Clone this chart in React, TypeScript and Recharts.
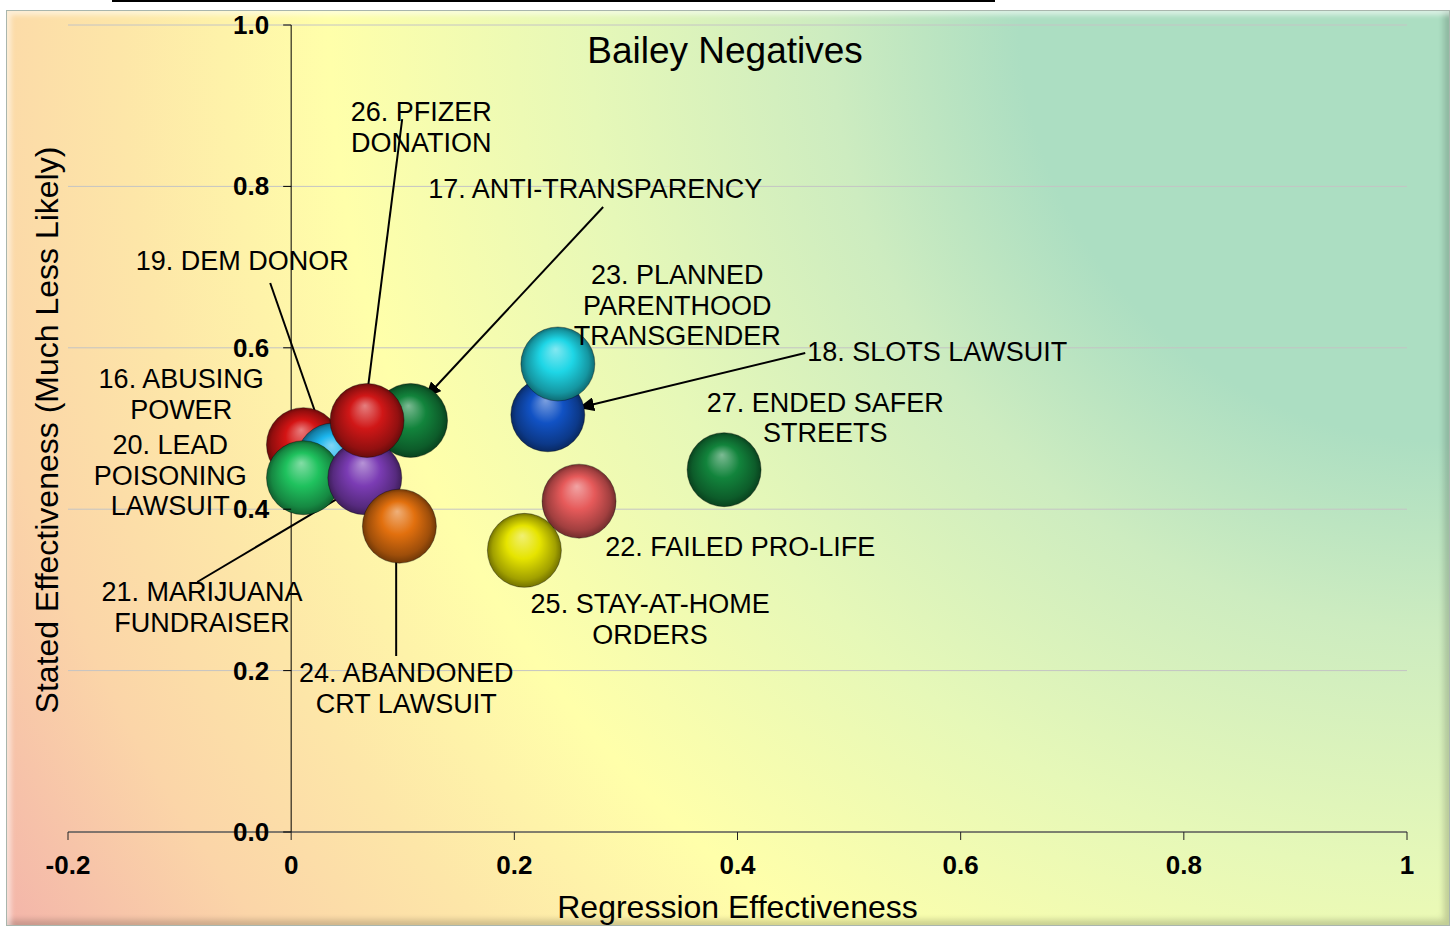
import React from "react";
import {
  ScatterChart,
  Scatter,
  XAxis,
  YAxis,
  CartesianGrid,
  ReferenceLine,
} from "recharts";

// bubbles, in drawing order (later ones sit on top)
const issueIds = ["16", "19", "20", "17", "21", "26", "24", "18", "23", "22", "25", "27"];
const regression = [0.011, 0.038, 0.011, 0.107, 0.066, 0.068, 0.097, 0.23, 0.239, 0.258, 0.209, 0.388];
const stated = [0.48, 0.461, 0.439, 0.51, 0.439, 0.51, 0.379, 0.517, 0.58, 0.41, 0.349, 0.449];
const bubbleColors = [
  "#d41414", "#1cb6ee", "#1fc25e", "#12843c", "#7b3cb4", "#d01717",
  "#e2700e", "#1152c4", "#1ed6e6", "#e65a5a", "#e6e400", "#12843c",
];

// annotation texts (center of block, in data units)
const labelLines = [
  ["26. PFIZER", "DONATION"],
  ["17. ANTI-TRANSPARENCY"],
  ["19. DEM DONOR"],
  ["23. PLANNED", "PARENTHOOD", "TRANSGENDER"],
  ["18. SLOTS LAWSUIT"],
  ["16. ABUSING", "POWER"],
  ["20. LEAD", "POISONING", "LAWSUIT"],
  ["27. ENDED SAFER", "STREETS"],
  ["22. FAILED PRO-LIFE"],
  ["21. MARIJUANA", "FUNDRAISER"],
  ["25. STAY-AT-HOME", "ORDERS"],
  ["24. ABANDONED", "CRT LAWSUIT"],
];
const labelX = [0.1165, 0.2725, -0.0439, 0.346, 0.579, -0.0986, -0.1084, 0.4786, 0.4024, -0.0798, 0.3217, 0.1031];
const labelY = [0.8736, 0.798, 0.7088, 0.653, 0.596, 0.5428, 0.4424, 0.514, 0.3544, 0.2788, 0.2639, 0.1784];

// arrows from label to bubble
const arrowFrom = [
  [0.0995, 0.8835],
  [0.2796, 0.7745],
  [-0.0188, 0.6803],
  [0.4607, 0.5936],
  [-0.0842, 0.3098],
  [0.0941, 0.2181],
];
const arrowTo = [
  [0.0672, 0.5328],
  [0.1201, 0.5378],
  [0.0287, 0.4919],
  [0.2572, 0.5254],
  [0.0636, 0.4312],
  [0.0941, 0.368],
];

const xTicks = [-0.2, 0, 0.2, 0.4, 0.6, 0.8, 1];
const yTicks = [0, 0.2, 0.4, 0.6, 0.8, 1];

const W = 1455;
const H = 927;
const margin = { top: 25, right: 48, left: 67, bottom: 0 };
const Y_AXIS_W = 1;
const X_MIN = -0.2;
const X_MAX = 1;
const plotLeft = margin.left + Y_AXIS_W;
const plotW = W - plotLeft - margin.right;
const yAxisX = plotLeft + (plotW * (0 - X_MIN)) / (X_MAX - X_MIN);

const FONT = "'Liberation Sans', Arial, sans-serif";

const bubbles = issueIds.map((id, i) => ({
  id,
  x: regression[i],
  y: stated[i],
  idx: i,
}));
const labels = labelLines.map((lines, i) => ({ x: labelX[i], y: labelY[i], lines }));

function shade(hex: string, amt: number) {
  const n = parseInt(hex.slice(1), 16);
  let r = (n >> 16) & 255;
  let g = (n >> 8) & 255;
  let b = n & 255;
  if (amt > 0) {
    r = r + (255 - r) * amt;
    g = g + (255 - g) * amt;
    b = b + (255 - b) * amt;
  } else {
    r = r * (1 + amt);
    g = g * (1 + amt);
    b = b * (1 + amt);
  }
  return `rgb(${Math.round(r)},${Math.round(g)},${Math.round(b)})`;
}

const Ball = (props: any) => {
  const { cx, cy, payload } = props;
  return (
    <circle
      cx={cx}
      cy={cy}
      r={37}
      fill={`url(#ball${payload.idx})`}
      stroke="rgba(0,0,0,0.35)"
      strokeWidth={1}
    />
  );
};

const Label = (props: any) => {
  const { cx, cy, payload } = props;
  const n = payload.lines.length;
  return (
    <g>
      {payload.lines.map((t: string, i: number) => (
        <text
          key={i}
          x={cx}
          y={cy + (i - (n - 1) / 2) * 30.5 + 9.6}
          textAnchor="middle"
          fontSize={27}
          fontFamily={FONT}
          fill="#000"
        >
          {t}
        </text>
      ))}
    </g>
  );
};

const YTick = (props: any) => {
  const { y, payload } = props;
  return (
    <g>
      <line x1={yAxisX - 8} y1={y} x2={yAxisX} y2={y} stroke="#000" />
      <text
        x={yAxisX - 22}
        y={y}
        textAnchor="end"
        dominantBaseline="central"
        fontSize={26}
        fontWeight="bold"
        fontFamily={FONT}
        fill="#000"
      >
        {Number(payload.value).toFixed(1)}
      </text>
    </g>
  );
};

const Arrow = (props: any) => (
  <line
    x1={props.x1}
    y1={props.y1}
    x2={props.x2}
    y2={props.y2}
    stroke="#000"
    strokeWidth={2}
    markerEnd="url(#arrowHead)"
  />
);

export default function App() {
  return (
    <div style={{ position: "absolute", left: 0, top: 0, width: W, height: H, overflow: "hidden", background: "#fff" }}>
      <svg width={0} height={0} style={{ position: "absolute" }}>
        <defs>
          {bubbleColors.map((c, i) => (
            <radialGradient key={i} id={`ball${i}`} cx="50%" cy="50%" r="50%" fx="47%" fy="30%">
              <stop offset="0%" stopColor={shade(c, 0.45)} />
              <stop offset="45%" stopColor={c} />
              <stop offset="85%" stopColor={shade(c, -0.3)} />
              <stop offset="100%" stopColor={shade(c, -0.5)} />
            </radialGradient>
          ))}
          <marker
            id="arrowHead"
            markerUnits="userSpaceOnUse"
            markerWidth={18}
            markerHeight={14}
            refX={16}
            refY={7}
            orient="auto"
          >
            <path d="M0,0 L16,7 L0,14 z" fill="#000" />
          </marker>
        </defs>
      </svg>

      <div style={{ position: "absolute", left: 112, top: 0, width: 883, height: 2, background: "#000" }} />

      <div
        style={{
          position: "absolute",
          left: 6,
          top: 10,
          width: 1442,
          height: 914,
          border: "1px solid #a9b6ad",
          background:
            "radial-gradient(circle at 100% 0%, #acdec2 0px, #acdec2 430px, #cdecc0 620px, #e6f8b8 860px, #ffffaa 1120px, #fde6a8 1330px, #fbd5a8 1500px, #f2b0aa 1740px)",
          boxShadow:
            "inset 4px 4px 5px rgba(255,255,255,0.55), inset -5px -5px 6px rgba(0,0,0,0.18)",
        }}
      />

      <div style={{ position: "absolute", left: 0, top: 0 }}>
        <ScatterChart width={W} height={H} margin={margin}>
          <CartesianGrid vertical={false} stroke="#c4c4c4" />
          <XAxis
            type="number"
            dataKey="x"
            domain={[X_MIN, X_MAX]}
            ticks={xTicks}
            height={95}
            tickSize={8}
            tickMargin={16}
            stroke="#222"
            tick={{ fontSize: 26, fontWeight: "bold", fill: "#000", fontFamily: FONT }}
            label={{
              value: "Regression Effectiveness",
              position: "insideBottom",
              offset: 9,
              fontSize: 32,
              fill: "#000",
              fontFamily: FONT,
            }}
          />
          <YAxis
            type="number"
            dataKey="y"
            domain={[0, 1]}
            ticks={yTicks}
            width={Y_AXIS_W}
            axisLine={false}
            tickLine={false}
            tick={(p: any) => <YTick {...p} />}
          />
          <ReferenceLine x={0} stroke="#000" strokeWidth={1} />
          <Scatter data={bubbles} shape={<Ball />} isAnimationActive={false} />
          {arrowFrom.map((f, i) => (
            <ReferenceLine
              key={i}
              segment={[
                { x: f[0], y: f[1] },
                { x: arrowTo[i][0], y: arrowTo[i][1] },
              ]}
              shape={(p: any) => <Arrow {...p} />}
            />
          ))}
          <Scatter data={labels} shape={<Label />} isAnimationActive={false} />
        </ScatterChart>
      </div>

      <svg width={W} height={H} style={{ position: "absolute", left: 0, top: 0, pointerEvents: "none" }}>
        <text x={725} y={63} textAnchor="middle" fontSize={37} fontFamily={FONT} fill="#000">
          Bailey Negatives
        </text>
        <text
          x={47}
          y={430}
          transform="rotate(-90, 47, 430)"
          textAnchor="middle"
          dominantBaseline="central"
          fontSize={32}
          fontFamily={FONT}
          fill="#000"
        >
          Stated Effectiveness (Much Less Likely)
        </text>
      </svg>
    </div>
  );
}
